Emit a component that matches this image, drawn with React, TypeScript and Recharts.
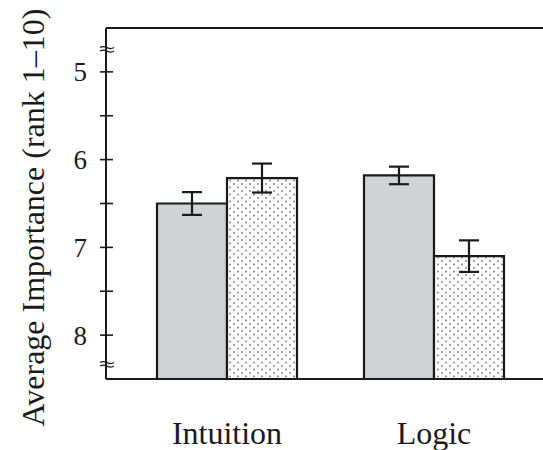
import React from 'react';
import { BarChart, Bar, XAxis, YAxis, ErrorBar, ReferenceLine } from 'recharts';

const categories = ['Intuition', 'Logic'];
const solidMeans = [6.5, 6.18];
const solidErrors = [0.13, 0.1];
const dottedMeans = [6.21, 7.1];
const dottedErrors = [0.165, 0.18];
const axisMin = 4.5;
const axisMax = 8.5;
const majorTicks = [5, 6, 7, 8];
const minorTicks = [5.5, 6.5, 7.5];
const breakMarks = [4.74, 8.33];
const yTitle = 'Average Importance (rank 1\u201310)';

const data = categories.map((c, i) => ({
  category: c,
  solid: [axisMax, solidMeans[i]],
  solidErr: solidErrors[i],
  dotted: [axisMax, dottedMeans[i]],
  dottedErr: dottedErrors[i],
}));

const allTicks = [...breakMarks, ...majorTicks, ...minorTicks].sort((a, b) => a - b);

const FONT = '"Liberation Serif", "Times New Roman", serif';
const INK = '#1a1a1a';
const Y_TICK_MARGIN = 19;

const YTick = (props: any) => {
  const { x, y, payload } = props;
  const v = payload.value;
  const ax = x + Y_TICK_MARGIN;
  if (breakMarks.includes(v)) {
    return (
      <g>
        <path d={`M${ax - 6},${y - 1.5} q3,-2 7,0 t7,0`} stroke={INK} strokeWidth={1.3} fill="none" />
        <path d={`M${ax - 6},${y + 2} q3,-2 7,0 t7,0`} stroke={INK} strokeWidth={1.3} fill="none" />
      </g>
    );
  }
  const major = majorTicks.includes(v);
  return (
    <g>
      <line x1={ax - 6} x2={ax + 7} y1={y} y2={y} stroke={INK} strokeWidth={1.6} />
      {major && (
        <text x={x} y={y} dy="0.35em" textAnchor="end" fontFamily={FONT} fontSize={27} fill={INK}>
          {v}
        </text>
      )}
    </g>
  );
};

const renderYTitle = (p: any) => {
  const vb = p.viewBox;
  const cx = vb.x + 44;
  const cy = vb.y + vb.height / 2 + 14;
  return (
    <text
      x={cx}
      y={cy}
      transform={`rotate(-90 ${cx} ${cy})`}
      textAnchor="middle"
      fontFamily={FONT}
      fontSize={32}
      fill={INK}
    >
      {yTitle}
    </text>
  );
};

export default function App() {
  return (
    <div style={{ position: 'absolute', left: 0, top: 0, background: '#fff' }}>
      <BarChart
        width={543}
        height={450}
        data={data}
        margin={{ top: 28, right: 0, bottom: 0, left: 0 }}
        barCategoryGap={33.5}
        barGap={0}
      >
        <defs>
          <pattern id="dots" x="0" y="0" width="8" height="7" patternUnits="userSpaceOnUse">
            <rect x="0" y="0" width="8" height="7" fill="#ffffff" />
            <circle cx="2" cy="2" r="0.9" fill="#7a7a7a" />
            <circle cx="6" cy="5.5" r="0.9" fill="#7a7a7a" />
          </pattern>
        </defs>
        <XAxis
          dataKey="category"
          height={71}
          padding={{ left: 17.5, right: 5.5 }}
          tickLine={false}
          tickSize={0}
          tickMargin={42}
          axisLine={{ stroke: INK, strokeWidth: 2 }}
          tick={{ fontFamily: FONT, fontSize: 32, fill: INK }}
        />
        <YAxis
          width={106}
          type="number"
          reversed
          domain={[axisMin, axisMax]}
          allowDataOverflow
          ticks={allTicks}
          interval={0}
          tickLine={false}
          tickSize={0}
          tickMargin={Y_TICK_MARGIN}
          axisLine={{ stroke: INK, strokeWidth: 2 }}
          tick={<YTick />}
          label={{ value: yTitle, content: renderYTitle }}
        />
        <ReferenceLine y={axisMin} stroke={INK} strokeWidth={2} ifOverflow="visible" />
        <Bar dataKey="solid" fill="#d1d2d4" stroke={INK} strokeWidth={2.2} isAnimationActive={false}>
          <ErrorBar dataKey="solidErr" width={10} stroke={INK} strokeWidth={2.2} direction="y" />
        </Bar>
        <Bar dataKey="dotted" fill="url(#dots)" stroke={INK} strokeWidth={2.2} isAnimationActive={false}>
          <ErrorBar dataKey="dottedErr" width={10} stroke={INK} strokeWidth={2.2} direction="y" />
        </Bar>
      </BarChart>
    </div>
  );
}
